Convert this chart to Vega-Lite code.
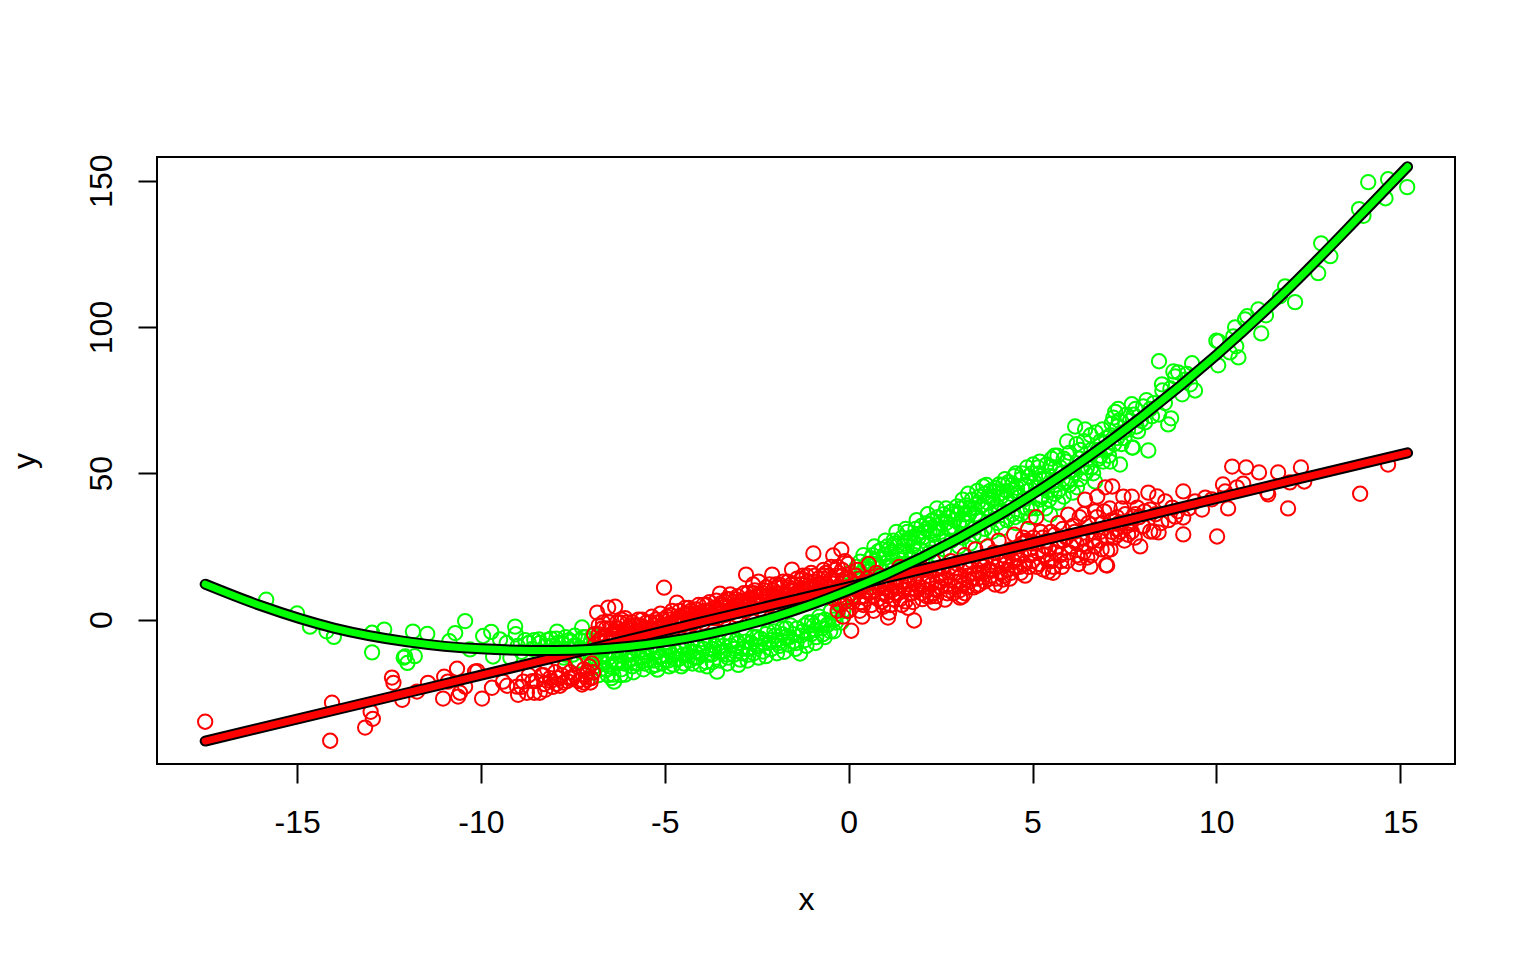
{"$schema":"https://vega.github.io/schema/vega-lite/v6.json","width":1298,"height":607,"autosize":"none","padding":{"left":157,"top":157,"right":81,"bottom":196},"background":"white","config":{"view":{"stroke":"black","strokeWidth":2},"axis":{"grid":false,"domain":false,"tickColor":"black","tickWidth":2,"tickSize":19,"labelColor":"black","titleColor":"black","labelFont":"Liberation Sans","titleFont":"Liberation Sans","labelFontSize":32,"titleFontSize":32,"titleFontWeight":"normal"}},"datasets":{"green":[{"x":-15.84,"y":6.8},{"x":-15,"y":2.1},{"x":-14.65,"y":-2.4},{"x":-14.2,"y":-4},{"x":-14,"y":-5.9},{"x":-12.96,"y":-4.5},{"x":-12.96,"y":-11.2},{"x":-12.63,"y":-3.4},{"x":-11.85,"y":-4.1},{"x":-11.46,"y":-4.9},{"x":-12.06,"y":-12.6},{"x":-12,"y":-14.8},{"x":-11.8,"y":-12.5},{"x":-12.1,"y":-13},{"x":-10.7,"y":-4.6},{"x":-10.43,"y":-0.5},{"x":-10.86,"y":-7.4},{"x":-10.3,"y":-10.2},{"x":-9.94,"y":-5.6},{"x":-9.72,"y":-4.2},{"x":-9.67,"y":-12.6},{"x":-9.48,"y":-6.8},{"x":-9.07,"y":-2.4},{"x":-9.05,"y":-5},{"x":-9.2,"y":-13},{"x":-8.42,"y":-6.8},{"x":-9.3,"y":-8},{"x":-9,"y":-9},{"x":-8.8,"y":-7},{"x":-8.6,"y":-10},{"x":-8.4,"y":-8},{"x":-8.3,"y":-11},{"x":-8.2,"y":-7},{"x":-8.15,"y":-12},{"x":-8.05,"y":-9},{"x":-7.95,"y":-6.5},{"x":-7.93,"y":-4.1},{"x":-7.85,"y":-11},{"x":-7.8,"y":-8},{"x":-7.75,"y":-13},{"x":-7.7,"y":-6},{"x":-7.62,"y":-10},{"x":-7.55,"y":-7.5},{"x":-7.5,"y":-12},{"x":-7.45,"y":-5.5},{"x":-7.4,"y":-9},{"x":-7.35,"y":-14},{"x":-7.3,"y":-7},{"x":-7.25,"y":-2.7},{"x":-7.2,"y":-11},{"x":-7.15,"y":-6},{"x":-7.1,"y":-13},{"x":-7.05,"y":-8.5},{"x":-7,"y":-15},{"x":-6.95,"y":-5.5},{"x":-6.9,"y":-16},{"x":-6.85,"y":-12},{"x":-6.8,"y":-19},{"x":-6.72,"y":-14},{"x":-6.65,"y":-10},{"x":-6.6,"y":-17},{"x":-6.52,"y":-13},{"x":-6.45,"y":-20},{"x":-6.38,"y":-21.2},{"x":-6.4,"y":-18.8},{"x":-6.3,"y":-15},{"x":-6.25,"y":-11},{"x":-6.18,"y":-17},{"x":-6.08,"y":-18.8},{"x":-6,"y":-14},{"x":-5.95,"y":-12},{"x":-5.88,"y":-16},{"x":-5.8,"y":-10},{"x":-5.72,"y":-15},{"x":-5.65,"y":-13},{"x":-5.58,"y":-17},{"x":-5.5,"y":-11},{"x":-5.42,"y":-14},{"x":-5.35,"y":-16},{"x":-5.3,"y":-9},{"x":-5.2,"y":-17.1},{"x":-5.15,"y":-13},{"x":-5.08,"y":-15},{"x":-5,"y":-10},{"x":-4.95,"y":-12.5},{"x":-4.88,"y":-16},{"x":-4.77,"y":-15.4},{"x":-4.7,"y":-11},{"x":-4.62,"y":-13.5},{"x":-4.55,"y":-9},{"x":-4.48,"y":-15},{"x":-4.4,"y":-12},{"x":-4.32,"y":-14},{"x":-4.25,"y":-8},{"x":-4.18,"y":-11},{"x":-4.1,"y":-13},{"x":-4.04,"y":-15.4},{"x":-3.95,"y":-10},{"x":-3.88,"y":-14.5},{"x":-3.8,"y":-7},{"x":-3.72,"y":-12},{"x":-3.65,"y":-9},{"x":-3.58,"y":-17.8},{"x":-3.5,"y":-14},{"x":-3.42,"y":-11},{"x":-3.35,"y":-6},{"x":-3.28,"y":-13},{"x":-3.2,"y":-9},{"x":-3.12,"y":-12},{"x":-3.05,"y":-7},{"x":-2.95,"y":-13.7},{"x":-2.88,"y":-10},{"x":-2.8,"y":-5},{"x":-2.72,"y":-12},{"x":-2.65,"y":-8},{"x":-2.58,"y":-11.5},{"x":-2.5,"y":-6},{"x":-2.42,"y":-9},{"x":-2.33,"y":-10.9},{"x":-2.25,"y":-5},{"x":-2.18,"y":-8},{"x":-2.1,"y":-10},{"x":-2.02,"y":-4},{"x":-1.95,"y":-7},{"x":-1.88,"y":-9},{"x":-1.8,"y":-3},{"x":-1.72,"y":-6},{"x":-1.65,"y":-8.5},{"x":-1.58,"y":-2},{"x":-1.5,"y":-5},{"x":-1.42,"y":-8},{"x":-1.32,"y":-11.6},{"x":-1.25,"y":-4},{"x":-1.18,"y":-7},{"x":-1.1,"y":-1},{"x":-1.02,"y":-5},{"x":-0.95,"y":-2},{"x":-0.88,"y":-6},{"x":-0.8,"y":1},{"x":-0.72,"y":-3},{"x":-0.65,"y":0},{"x":-0.55,"y":-1.5},{"x":-0.48,"y":3},{"x":-0.4,"y":0},{"x":-0.3,"y":2},{"x":-0.22,"y":5},{"x":-0.15,"y":3},{"x":-0.05,"y":7},{"x":0.05,"y":12},{"x":0.1,"y":8},{"x":0.18,"y":15},{"x":0.25,"y":11},{"x":0.31,"y":19.8},{"x":0.38,"y":14},{"x":0.45,"y":18},{"x":0.52,"y":12},{"x":0.6,"y":21},{"x":0.68,"y":16},{"x":0.75,"y":19},{"x":0.8,"y":23.3},{"x":0.88,"y":15},{"x":0.95,"y":22},{"x":1.02,"y":18},{"x":1.1,"y":24},{"x":1.18,"y":20},{"x":1.25,"y":26},{"x":1.32,"y":22},{"x":1.4,"y":19},{"x":1.48,"y":25},{"x":1.55,"y":23},{"x":1.62,"y":27},{"x":1.7,"y":21},{"x":1.78,"y":26},{"x":1.86,"y":29.1},{"x":1.95,"y":24},{"x":2.02,"y":28},{"x":2.1,"y":31},{"x":2.15,"y":26},{"x":2.22,"y":32.5},{"x":2.3,"y":29},{"x":2.38,"y":25},{"x":2.45,"y":31},{"x":2.52,"y":33},{"x":2.6,"y":28},{"x":2.71,"y":34.9},{"x":2.78,"y":31},{"x":2.85,"y":36},{"x":2.95,"y":38.7},{"x":3,"y":33},{"x":3.08,"y":29},{"x":3.15,"y":36},{"x":3.22,"y":33},{"x":3.3,"y":38},{"x":3.38,"y":31},{"x":3.45,"y":36},{"x":3.52,"y":40},{"x":3.58,"y":34},{"x":3.66,"y":45.5},{"x":3.72,"y":38},{"x":3.8,"y":42},{"x":3.88,"y":36},{"x":3.95,"y":44},{"x":4.02,"y":39},{"x":4.09,"y":46.2},{"x":4.15,"y":42},{"x":4.22,"y":37},{"x":4.3,"y":44},{"x":4.38,"y":40},{"x":4.45,"y":46},{"x":4.52,"y":35},{"x":4.6,"y":43},{"x":4.68,"y":48},{"x":4.75,"y":41},{"x":4.82,"y":46},{"x":4.9,"y":49},{"x":4.95,"y":38},{"x":5.02,"y":53},{"x":5.1,"y":45},{"x":5.18,"y":50},{"x":5.25,"y":42},{"x":5.32,"y":48},{"x":5.4,"y":44},{"x":5.48,"y":52.3},{"x":5.48,"y":35.9},{"x":5.55,"y":47},{"x":5.62,"y":52},{"x":5.7,"y":40},{"x":5.78,"y":50},{"x":5.85,"y":55},{"x":5.94,"y":60.9},{"x":6,"y":46},{"x":6.1,"y":43.4},{"x":6.16,"y":66},{"x":6.21,"y":45.2},{"x":6.3,"y":58},{"x":6.35,"y":52},{"x":6.43,"y":65},{"x":6.5,"y":55},{"x":6.58,"y":63},{"x":6.65,"y":50},{"x":6.7,"y":47.2},{"x":6.78,"y":58},{"x":6.85,"y":61},{"x":6.92,"y":54},{"x":7,"y":62},{"x":7.08,"y":56},{"x":7.11,"y":54},{"x":7.15,"y":67},{"x":7.2,"y":69},{"x":7.25,"y":71},{"x":7.3,"y":66},{"x":7.33,"y":72},{"x":7.38,"y":53},{"x":7.42,"y":60},{"x":7.5,"y":62},{"x":7.6,"y":65},{"x":7.71,"y":58.8},{"x":7.75,"y":70},{"x":7.83,"y":66},{"x":14.13,"y":149.5},{"x":14.67,"y":150.5},{"x":15.19,"y":147.8},{"x":14.6,"y":144},{"x":13.88,"y":140.3},{"x":14,"y":138},{"x":12.85,"y":128.6},{"x":13.1,"y":124.2},{"x":12.77,"y":118.4},{"x":11.87,"y":113.9},{"x":11.73,"y":110.5},{"x":12.14,"y":108.5},{"x":11.14,"y":106},{"x":10.84,"y":103.7},{"x":10.78,"y":102.6},{"x":11.35,"y":104},{"x":11.22,"y":97.8},{"x":10.51,"y":99.9},{"x":10.46,"y":96.8},{"x":10.06,"y":95.1},{"x":10,"y":95.3},{"x":10.54,"y":93.4},{"x":10.05,"y":86.9},{"x":10.6,"y":89.6},{"x":10.37,"y":91.3},{"x":8.44,"y":88.3},{"x":8.83,"y":84.8},{"x":8.96,"y":84.5},{"x":8.88,"y":83.1},{"x":9.34,"y":87.6},{"x":8.52,"y":80.4},{"x":8.53,"y":78.3},{"x":9.07,"y":77},{"x":9.42,"y":78.3},{"x":9.29,"y":80.4},{"x":8.01,"y":72.9},{"x":7.7,"y":73.6},{"x":7.73,"y":58.8},{"x":8.15,"y":57.8},{"x":8.69,"y":66.7},{"x":8.77,"y":68.8},{"x":8.44,"y":70.1},{"x":8.06,"y":67.4},{"x":7.87,"y":64.3},{"x":8.25,"y":69.5},{"x":-8.9,"y":-11},{"x":-8.7,"y":-8},{"x":-8.55,"y":-7},{"x":-8.45,"y":-11},{"x":-8.25,"y":-9},{"x":-8.1,"y":-6.5},{"x":-8,"y":-10},{"x":-7.9,"y":-8},{"x":-7.7,"y":-12},{"x":-7.6,"y":-7},{"x":-7.48,"y":-9},{"x":-7.3,"y":-11},{"x":-7.22,"y":-6},{"x":-7.05,"y":-11},{"x":-7,"y":-7},{"x":-6.9,"y":-13},{"x":-6.8,"y":-10},{"x":-6.7,"y":-15},{"x":-6.6,"y":-12},{"x":-6.5,"y":-16},{"x":-6.4,"y":-11},{"x":-6.3,"y":-14},{"x":-6.2,"y":-12},{"x":-6.1,"y":-15},{"x":-6,"y":-11},{"x":-5.9,"y":-13.5},{"x":-5.8,"y":-15},{"x":-5.7,"y":-11},{"x":-5.6,"y":-14},{"x":-5.5,"y":-12.5},{"x":-5.4,"y":-10},{"x":-5.3,"y":-14},{"x":-5.2,"y":-11},{"x":-5.1,"y":-12.5},{"x":-5,"y":-14},{"x":-4.9,"y":-9.5},{"x":-4.8,"y":-12},{"x":-4.7,"y":-13.5},{"x":-4.6,"y":-10},{"x":-4.5,"y":-12},{"x":-4.4,"y":-9},{"x":-4.3,"y":-11},{"x":-4.2,"y":-13},{"x":-4.1,"y":-9},{"x":-4,"y":-11.5},{"x":-3.9,"y":-8},{"x":-3.8,"y":-12},{"x":-3.7,"y":-10},{"x":-3.6,"y":-7},{"x":-3.5,"y":-11},{"x":-3.4,"y":-9},{"x":-3.3,"y":-12},{"x":-3.2,"y":-7},{"x":-3.1,"y":-10},{"x":-3,"y":-8},{"x":-2.9,"y":-11.5},{"x":-2.8,"y":-7.5},{"x":-2.7,"y":-10},{"x":-2.6,"y":-6},{"x":-2.5,"y":-9},{"x":-2.4,"y":-6.5},{"x":-2.3,"y":-8},{"x":-2.2,"y":-4},{"x":-2.1,"y":-7},{"x":-2,"y":-5.5},{"x":-1.9,"y":-8},{"x":-1.8,"y":-5},{"x":-1.7,"y":-3},{"x":-1.6,"y":-6},{"x":-1.5,"y":-7.5},{"x":-1.4,"y":-3},{"x":-1.3,"y":-5.5},{"x":-1.2,"y":-2},{"x":-1.1,"y":-4.5},{"x":-1,"y":-1},{"x":-0.9,"y":-3.5},{"x":-0.8,"y":-0.5},{"x":-0.7,"y":-5},{"x":-0.6,"y":-2},{"x":-0.5,"y":-4},{"x":-0.35,"y":-1},{"x":0.02,"y":16},{"x":0.15,"y":12},{"x":0.22,"y":18},{"x":0.35,"y":16},{"x":0.42,"y":13},{"x":0.5,"y":19},{"x":0.58,"y":17},{"x":0.65,"y":22},{"x":0.72,"y":20},{"x":0.82,"y":18},{"x":0.9,"y":24},{"x":0.98,"y":21},{"x":1.05,"y":25},{"x":1.15,"y":23},{"x":1.22,"y":27},{"x":1.3,"y":25},{"x":1.38,"y":23},{"x":1.45,"y":28},{"x":1.52,"y":26},{"x":1.6,"y":30},{"x":1.68,"y":28},{"x":1.75,"y":25},{"x":1.82,"y":31},{"x":1.9,"y":28},{"x":1.98,"y":32},{"x":2.05,"y":30},{"x":2.12,"y":33},{"x":2.2,"y":30},{"x":2.28,"y":34},{"x":2.35,"y":31},{"x":2.42,"y":35},{"x":2.5,"y":30},{"x":2.58,"y":36},{"x":2.65,"y":33},{"x":2.72,"y":31},{"x":2.8,"y":37},{"x":2.88,"y":34},{"x":2.98,"y":36},{"x":3.05,"y":38},{"x":3.12,"y":34},{"x":3.2,"y":39},{"x":3.28,"y":36},{"x":3.35,"y":41},{"x":3.42,"y":38},{"x":3.5,"y":35},{"x":3.55,"y":42},{"x":3.62,"y":39},{"x":3.7,"y":43},{"x":3.78,"y":40},{"x":3.85,"y":44},{"x":3.92,"y":41},{"x":4,"y":45},{"x":4,"y":37},{"x":4.12,"y":43},{"x":4.2,"y":46},{"x":4.28,"y":41},{"x":4.35,"y":47},{"x":4.42,"y":43},{"x":4.5,"y":49},{"x":4.58,"y":45},{"x":4.65,"y":42},{"x":4.72,"y":50},{"x":4.8,"y":46},{"x":4.88,"y":44},{"x":4.98,"y":50},{"x":5.05,"y":47},{"x":5.15,"y":52},{"x":5.22,"y":48},{"x":5.3,"y":45},{"x":5.38,"y":53},{"x":5.45,"y":49},{"x":5.52,"y":55},{"x":5.6,"y":46},{"x":5.68,"y":56},{"x":5.75,"y":52},{"x":5.82,"y":48},{"x":5.92,"y":54},{"x":6,"y":57},{"x":6.08,"y":51},{"x":6.2,"y":60},{"x":6.28,"y":55},{"x":6.4,"y":61},{"x":6.48,"y":52},{"x":6.6,"y":58},{"x":6.72,"y":64},{"x":6.8,"y":55},{"x":6.9,"y":65},{"x":7,"y":58},{"x":7.12,"y":63},{"x":7.22,"y":60},{"x":7.35,"y":68},{"x":7.45,"y":64},{"x":7.55,"y":70},{"x":7.65,"y":68},{"x":7.8,"y":72},{"x":7.95,"y":68},{"x":8.1,"y":75},{"x":8.2,"y":72},{"x":8.3,"y":74},{"x":8.6,"y":74},{"x":8.75,"y":79},{"x":9.15,"y":82},{"x":9.2,"y":84},{"x":1.2,"y":17},{"x":1.4,"y":18},{"x":1.6,"y":19},{"x":1.8,"y":22},{"x":2,"y":20},{"x":2.2,"y":23},{"x":2.4,"y":22},{"x":2.6,"y":24},{"x":2.8,"y":27},{"x":3,"y":25},{"x":3.1,"y":28},{"x":3.3,"y":26},{"x":3.4,"y":29},{"x":3.6,"y":29},{"x":3.7,"y":31},{"x":3.9,"y":30},{"x":4.05,"y":33},{"x":4.15,"y":31},{"x":4.3,"y":34},{"x":4.45,"y":36},{"x":4.55,"y":33},{"x":4.7,"y":36},{"x":4.85,"y":38},{"x":4.95,"y":35},{"x":5.1,"y":38},{"x":5.2,"y":41},{"x":5.35,"y":38},{"x":5.45,"y":41},{"x":5.6,"y":43},{"x":5.7,"y":44},{"x":5.85,"y":42},{"x":5.95,"y":47},{"x":6.05,"y":48},{"x":6.15,"y":50},{"x":6.3,"y":48},{"x":6.45,"y":50},{"x":6.6,"y":52},{"x":6.85,"y":56},{"x":7.05,"y":59},{"x":7.3,"y":62},{"x":0.4,"y":22},{"x":0.7,"y":25},{"x":1,"y":27},{"x":1.3,"y":30},{"x":1.55,"y":31},{"x":1.85,"y":34},{"x":2.15,"y":36},{"x":2.4,"y":38},{"x":2.65,"y":38},{"x":3.1,"y":41},{"x":3.25,"y":43},{"x":3.5,"y":44},{"x":3.75,"y":46},{"x":4.25,"y":48},{"x":4.55,"y":50},{"x":4.85,"y":52},{"x":5.2,"y":54},{"x":5.6,"y":56},{"x":-6.75,"y":-17},{"x":-6.55,"y":-19},{"x":-6.2,"y":-19},{"x":-5.85,"y":-18},{"x":-5.55,"y":-15},{"x":-5.25,"y":-15.5},{"x":-4.9,"y":-14},{"x":-4.55,"y":-16},{"x":-4.25,"y":-15},{"x":-3.85,"y":-16},{"x":-3.7,"y":-14.5},{"x":-3.3,"y":-15},{"x":-3,"y":-15.5},{"x":-2.75,"y":-14},{"x":-2.45,"y":-13},{"x":-2.25,"y":-12.5},{"x":-1.95,"y":-11.5},{"x":-1.75,"y":-11},{"x":-1.45,"y":-10},{"x":-1.15,"y":-9},{"x":-0.9,"y":-8},{"x":-0.65,"y":-6},{"x":-0.4,"y":-4},{"x":-0.2,"y":-1}],"red":[{"x":-17.5,"y":-34.9},{"x":-14.05,"y":-28.4},{"x":-14.1,"y":-41.4},{"x":-13.15,"y":-36.9},{"x":-12.94,"y":-33.9},{"x":-13,"y":-31.5},{"x":-12.42,"y":-19.8},{"x":-12.38,"y":-21.6},{"x":-12.14,"y":-27.4},{"x":-11.74,"y":-24.6},{"x":-11.44,"y":-21.6},{"x":-11.03,"y":-27},{"x":-11,"y":-19.5},{"x":-10.9,"y":-21.2},{"x":-10.65,"y":-16.8},{"x":-10.62,"y":-26.3},{"x":-10.57,"y":-25},{"x":-10.43,"y":-22.9},{"x":-10.16,"y":-17.8},{"x":-10.1,"y":-17.6},{"x":-9.97,"y":-27},{"x":-9.7,"y":-23.3},{"x":-9.4,"y":-21.2},{"x":-9.29,"y":-22.6},{"x":-8.99,"y":-25.7},{"x":-9.02,"y":-22.9},{"x":-8.55,"y":-25},{"x":-8.85,"y":-21.2},{"x":-8.7,"y":-19},{"x":-8.6,"y":-21},{"x":-8.4,"y":-25},{"x":-8.35,"y":-19},{"x":-8.28,"y":-22},{"x":-8.2,"y":-17},{"x":-8.12,"y":-20},{"x":-8.05,"y":-23},{"x":-7.98,"y":-18},{"x":-7.85,"y":-22.6},{"x":-7.8,"y":-19},{"x":-7.72,"y":-16},{"x":-7.65,"y":-21},{"x":-7.58,"y":-18},{"x":-7.5,"y":-20},{"x":-7.42,"y":-15},{"x":-7.35,"y":-21},{"x":-7.25,"y":-22.2},{"x":-7.2,"y":-17},{"x":-7.15,"y":-19},{"x":-7.1,"y":-20.5},{"x":-7.05,"y":-16},{"x":-7.02,"y":-21.5},{"x":-6.98,"y":-15},{"x":-6.84,"y":2.4},{"x":-6.8,"y":-5},{"x":-6.75,"y":-8},{"x":-6.7,"y":-3},{"x":-6.62,"y":-6},{"x":-6.54,"y":4.1},{"x":-6.5,"y":-1},{"x":-6.42,"y":-7},{"x":-6.35,"y":4.4},{"x":-6.3,"y":-4},{"x":-6.22,"y":-1},{"x":-6.15,"y":-6},{"x":-6.08,"y":0.5},{"x":-6,"y":-3},{"x":-5.95,"y":-5},{"x":-5.88,"y":-1},{"x":-5.8,"y":-4},{"x":-5.72,"y":0},{"x":-5.65,"y":-2.5},{"x":-5.58,"y":-5},{"x":-5.5,"y":-1},{"x":-5.42,"y":-3},{"x":-5.35,"y":1},{"x":-5.28,"y":-4},{"x":-5.2,"y":-1},{"x":-5.12,"y":2},{"x":-5.05,"y":-2},{"x":-5.02,"y":10.9},{"x":-4.95,"y":-3.5},{"x":-4.88,"y":0},{"x":-4.8,"y":3},{"x":-4.72,"y":-1},{"x":-4.67,"y":5.8},{"x":-4.6,"y":1},{"x":-4.52,"y":-2},{"x":-4.45,"y":4},{"x":-4.38,"y":0},{"x":-4.3,"y":3},{"x":-4.22,"y":-1},{"x":-4.15,"y":2},{"x":-4.08,"y":5},{"x":-4,"y":0},{"x":-3.92,"y":3},{"x":-3.85,"y":1},{"x":-3.78,"y":6},{"x":-3.7,"y":2},{"x":-3.62,"y":4},{"x":-3.55,"y":0.5},{"x":-3.5,"y":8.9},{"x":-3.42,"y":3},{"x":-3.35,"y":6},{"x":-3.28,"y":2},{"x":-3.22,"y":8.6},{"x":-3.15,"y":4},{"x":-3.08,"y":7},{"x":-3,"y":3},{"x":-2.92,"y":5},{"x":-2.85,"y":9},{"x":-2.79,"y":15.4},{"x":-2.72,"y":6},{"x":-2.65,"y":4},{"x":-2.6,"y":12},{"x":-2.52,"y":8},{"x":-2.45,"y":13},{"x":-2.38,"y":5},{"x":-2.3,"y":10},{"x":-2.22,"y":7},{"x":-2.15,"y":12},{"x":-2.08,"y":15.4},{"x":-2,"y":8},{"x":-1.92,"y":11},{"x":-1.85,"y":6},{"x":-1.78,"y":13},{"x":-1.7,"y":9},{"x":-1.62,"y":11},{"x":-1.54,"y":17.1},{"x":-1.48,"y":8},{"x":-1.4,"y":14},{"x":-1.32,"y":10},{"x":-1.25,"y":15},{"x":-1.18,"y":12},{"x":-1.1,"y":8},{"x":-1.02,"y":16},{"x":-0.96,"y":22.6},{"x":-0.9,"y":11},{"x":-0.82,"y":14},{"x":-0.75,"y":9},{"x":-0.68,"y":17},{"x":-0.6,"y":12},{"x":-0.52,"y":15},{"x":-0.42,"y":21.9},{"x":-0.38,"y":10},{"x":-0.3,"y":18},{"x":-0.25,"y":5},{"x":-0.2,"y":23.9},{"x":-0.15,"y":13},{"x":-0.1,"y":20},{"x":-0.05,"y":3},{"x":0.07,"y":-3.8},{"x":0.12,"y":6},{"x":0.18,"y":12},{"x":0.25,"y":17},{"x":0.3,"y":3},{"x":0.37,"y":1},{"x":0.42,"y":8},{"x":0.5,"y":14},{"x":0.55,"y":19},{"x":0.62,"y":5},{"x":0.7,"y":10},{"x":0.75,"y":16},{"x":0.8,"y":7},{"x":0.88,"y":12},{"x":0.94,"y":4.4},{"x":1,"y":9},{"x":1.07,"y":0.7},{"x":1.1,"y":2.4},{"x":1.15,"y":15},{"x":1.22,"y":7},{"x":1.3,"y":11},{"x":1.38,"y":18},{"x":1.45,"y":5},{"x":1.54,"y":6.2},{"x":1.6,"y":13},{"x":1.68,"y":9},{"x":1.78,"y":-0.3},{"x":1.85,"y":15},{"x":1.92,"y":11},{"x":2,"y":7},{"x":2.08,"y":17},{"x":2.15,"y":13},{"x":2.22,"y":7.9},{"x":2.3,"y":20},{"x":2.33,"y":5.8},{"x":2.4,"y":10},{"x":2.48,"y":15},{"x":2.55,"y":18},{"x":2.62,"y":6.8},{"x":2.7,"y":12},{"x":2.78,"y":20},{"x":2.85,"y":9},{"x":2.92,"y":16},{"x":3,"y":13},{"x":3.03,"y":7.5},{"x":3.09,"y":7.9},{"x":3.15,"y":22},{"x":3.22,"y":11},{"x":3.3,"y":18},{"x":3.38,"y":14},{"x":3.45,"y":24},{"x":3.49,"y":11.6},{"x":3.55,"y":16},{"x":3.62,"y":20},{"x":3.7,"y":13},{"x":3.78,"y":25},{"x":3.85,"y":17},{"x":3.92,"y":21},{"x":4,"y":14},{"x":4.08,"y":27},{"x":4.15,"y":11.6},{"x":4.2,"y":13.7},{"x":4.28,"y":19},{"x":4.35,"y":23},{"x":4.42,"y":16},{"x":4.5,"y":29},{"x":4.58,"y":21},{"x":4.65,"y":18},{"x":4.72,"y":26},{"x":4.8,"y":15},{"x":4.88,"y":31},{"x":4.95,"y":22},{"x":5.02,"y":28},{"x":5.1,"y":35},{"x":5.18,"y":19},{"x":5.29,"y":17.1},{"x":5.35,"y":25},{"x":5.43,"y":16.4},{"x":5.5,"y":30},{"x":5.56,"y":16},{"x":5.62,"y":23},{"x":5.7,"y":33},{"x":5.78,"y":20},{"x":5.85,"y":27},{"x":5.97,"y":35.9},{"x":6.05,"y":25},{"x":6.15,"y":30},{"x":6.22,"y":22},{"x":6.3,"y":21.2},{"x":6.38,"y":36},{"x":6.43,"y":41},{"x":6.49,"y":21.2},{"x":6.57,"y":18.1},{"x":6.62,"y":30},{"x":6.7,"y":37},{"x":6.76,"y":42},{"x":6.82,"y":27},{"x":6.9,"y":33},{"x":6.98,"y":45.2},{"x":7,"y":18.6},{"x":7.03,"y":18.5},{"x":7.03,"y":23.6},{"x":7.1,"y":38},{"x":7.17,"y":45.5},{"x":7.22,"y":28},{"x":7.3,"y":35},{"x":7.38,"y":30},{"x":7.47,"y":42},{"x":7.52,"y":36},{"x":7.6,"y":29},{"x":7.68,"y":33},{"x":7.93,"y":25},{"x":7.8,"y":36},{"x":14.67,"y":53},{"x":13.91,"y":43},{"x":12.3,"y":52},{"x":12.39,"y":47.2},{"x":12,"y":46.9},{"x":11.95,"y":38},{"x":11.68,"y":50.3},{"x":11.41,"y":42.8},{"x":11.38,"y":43.5},{"x":11.16,"y":50.3},{"x":10.81,"y":52},{"x":10.43,"y":52.3},{"x":10.18,"y":46.2},{"x":10.73,"y":46.5},{"x":10.56,"y":45.2},{"x":10.24,"y":43.8},{"x":10.32,"y":38},{"x":10.02,"y":28.4},{"x":9.1,"y":43.8},{"x":9.1,"y":29.1},{"x":8.15,"y":43.4},{"x":8.39,"y":42.1},{"x":8.61,"y":40.4},{"x":9.61,"y":37.6},{"x":9.42,"y":40.4},{"x":9.7,"y":41.7},{"x":9.88,"y":41.1},{"x":9.1,"y":34.9},{"x":8.88,"y":35.2},{"x":8.8,"y":38.3},{"x":8.29,"y":30.1},{"x":8.43,"y":29.8},{"x":8.2,"y":30.1},{"x":7.85,"y":38.3},{"x":8.2,"y":37.6},{"x":8.01,"y":31.8},{"x":7.74,"y":35.2},{"x":7.7,"y":42},{"x":-8.9,"y":-23},{"x":-8.75,"y":-25},{"x":-8.5,"y":-21},{"x":-8.3,"y":-19},{"x":-8.25,"y":-24},{"x":-8.1,"y":-21},{"x":-7.95,"y":-22},{"x":-7.9,"y":-20},{"x":-7.75,"y":-21.5},{"x":-7.6,"y":-20},{"x":-7.45,"y":-19},{"x":-7.3,"y":-20.5},{"x":-7.2,"y":-21.5},{"x":-7.1,"y":-18},{"x":-7,"y":-20},{"x":-6.95,"y":-18},{"x":-6.9,"y":-8.5},{"x":-6.8,"y":-2},{"x":-6.7,"y":-6},{"x":-6.6,"y":-3},{"x":-6.5,"y":-8},{"x":-6.4,"y":-5},{"x":-6.3,"y":-1},{"x":-6.2,"y":-6},{"x":-6.1,"y":-3.5},{"x":-6.05,"y":-7},{"x":-5.95,"y":-2},{"x":-5.85,"y":-4.5},{"x":-5.75,"y":-6},{"x":-5.7,"y":-2},{"x":-5.6,"y":-3},{"x":-5.5,"y":-5},{"x":-5.4,"y":-1},{"x":-5.3,"y":-2},{"x":-5.25,"y":-5},{"x":-5.15,"y":-3},{"x":-5.05,"y":0},{"x":-5,"y":-4},{"x":-4.9,"y":-1.5},{"x":-4.85,"y":1.5},{"x":-4.75,"y":-3},{"x":-4.65,"y":0},{"x":-4.6,"y":3},{"x":-4.5,"y":-1},{"x":-4.42,"y":1.5},{"x":-4.35,"y":4},{"x":-4.25,"y":0},{"x":-4.18,"y":2},{"x":-4.1,"y":-0.5},{"x":-4.02,"y":2.5},{"x":-3.95,"y":5},{"x":-3.85,"y":3},{"x":-3.75,"y":1},{"x":-3.68,"y":4},{"x":-3.6,"y":6.5},{"x":-3.52,"y":2},{"x":-3.45,"y":5},{"x":-3.38,"y":1.5},{"x":-3.3,"y":4},{"x":-3.25,"y":7},{"x":-3.18,"y":2.5},{"x":-3.1,"y":5},{"x":-3.02,"y":8},{"x":-2.95,"y":4},{"x":-2.88,"y":6.5},{"x":-2.8,"y":3},{"x":-2.75,"y":9},{"x":-2.68,"y":5},{"x":-2.6,"y":7},{"x":-2.55,"y":10},{"x":-2.48,"y":5},{"x":-2.4,"y":8},{"x":-2.32,"y":6},{"x":-2.25,"y":11},{"x":-2.18,"y":8},{"x":-2.1,"y":6},{"x":-2.05,"y":10},{"x":-1.95,"y":7},{"x":-1.88,"y":12},{"x":-1.8,"y":9},{"x":-1.72,"y":7},{"x":-1.65,"y":13},{"x":-1.58,"y":10},{"x":-1.5,"y":8},{"x":-1.45,"y":12},{"x":-1.35,"y":9},{"x":-1.28,"y":14},{"x":-1.2,"y":10},{"x":-1.12,"y":13},{"x":-1.05,"y":11},{"x":-0.98,"y":9},{"x":-0.92,"y":15},{"x":-0.85,"y":12},{"x":-0.78,"y":10},{"x":-0.7,"y":14},{"x":-0.62,"y":16},{"x":-0.55,"y":11},{"x":-0.48,"y":18},{"x":-0.4,"y":13},{"x":-0.32,"y":15},{"x":-0.28,"y":11},{"x":-0.18,"y":17},{"x":-0.12,"y":10},{"x":-0.08,"y":14},{"x":-0.02,"y":19},{"x":-0.4,"y":7},{"x":-0.3,"y":3},{"x":-0.15,"y":1},{"x":-0.1,"y":6},{"x":0,"y":3},{"x":0.03,"y":14},{"x":0.08,"y":9},{"x":0.15,"y":8},{"x":0.22,"y":10},{"x":0.28,"y":14},{"x":0.35,"y":11},{"x":0.45,"y":12},{"x":0.55,"y":9},{"x":0.58,"y":13},{"x":0.65,"y":8},{"x":0.72,"y":13},{"x":0.82,"y":11},{"x":0.85,"y":15},{"x":0.92,"y":9},{"x":0.98,"y":13},{"x":1.05,"y":8},{"x":1.12,"y":12},{"x":1.18,"y":10},{"x":1.25,"y":14},{"x":1.35,"y":9},{"x":1.42,"y":13},{"x":1.5,"y":10},{"x":1.58,"y":15},{"x":1.65,"y":12},{"x":1.72,"y":9},{"x":1.8,"y":14},{"x":1.88,"y":12},{"x":1.95,"y":17},{"x":2.02,"y":13},{"x":2.1,"y":10},{"x":2.18,"y":15},{"x":2.25,"y":12},{"x":2.35,"y":17},{"x":2.42,"y":13},{"x":2.5,"y":11},{"x":2.58,"y":16},{"x":2.65,"y":14},{"x":2.72,"y":10},{"x":2.8,"y":16},{"x":2.88,"y":13},{"x":2.95,"y":19},{"x":3.05,"y":15},{"x":3.12,"y":12},{"x":3.18,"y":18},{"x":3.25,"y":15},{"x":3.35,"y":20},{"x":3.42,"y":16},{"x":3.5,"y":14},{"x":3.58,"y":19},{"x":3.65,"y":16},{"x":3.72,"y":21},{"x":3.8,"y":17},{"x":3.88,"y":15},{"x":3.95,"y":23},{"x":4.02,"y":18},{"x":4.12,"y":16},{"x":4.18,"y":22},{"x":4.25,"y":20},{"x":4.32,"y":17},{"x":4.4,"y":24},{"x":4.48,"y":20},{"x":4.55,"y":18},{"x":4.62,"y":25},{"x":4.7,"y":22},{"x":4.78,"y":19},{"x":4.85,"y":27},{"x":4.92,"y":24},{"x":5,"y":20},{"x":5.08,"y":26},{"x":5.15,"y":23},{"x":5.22,"y":30},{"x":5.3,"y":22},{"x":5.38,"y":27},{"x":5.45,"y":24},{"x":5.52,"y":20},{"x":5.6,"y":29},{"x":5.68,"y":25},{"x":5.75,"y":22},{"x":5.82,"y":31},{"x":5.92,"y":28},{"x":6,"y":23},{"x":6.1,"y":32},{"x":6.2,"y":26},{"x":6.28,"y":35},{"x":6.35,"y":28},{"x":6.45,"y":25},{"x":6.52,"y":33},{"x":6.65,"y":27},{"x":6.75,"y":35},{"x":6.85,"y":30},{"x":6.95,"y":37},{"x":7.05,"y":28},{"x":7.15,"y":34},{"x":7.28,"y":31},{"x":7.42,"y":38},{"x":7.55,"y":32},{"x":7.7,"y":30},{"x":7.78,"y":28},{"x":7.9,"y":35},{"x":8,"y":32},{"x":8.05,"y":37},{"x":8.35,"y":36},{"x":8.5,"y":33},{"x":8.7,"y":34},{"x":8.95,"y":37},{"x":9.25,"y":38},{"x":-6.92,"y":-5},{"x":-6.78,"y":-7},{"x":-6.68,"y":-1},{"x":-6.58,"y":-7},{"x":-6.48,"y":-3},{"x":-6.38,"y":-6.5},{"x":-6.28,"y":-3},{"x":-6.18,"y":0},{"x":-6.12,"y":-4.5},{"x":-6.02,"y":-1},{"x":-5.92,"y":-6},{"x":-5.82,"y":-2},{"x":-5.72,"y":-5},{"x":-5.62,"y":0},{"x":-5.52,"y":-3},{"x":-5.44,"y":-6},{"x":-5.34,"y":-3},{"x":-5.24,"y":0},{"x":-5.14,"y":-4.5},{"x":-5.04,"y":-3},{"x":-4.94,"y":1},{"x":-4.84,"y":-2.5},{"x":-4.74,"y":-0.5},{"x":-4.64,"y":-2},{"x":-4.54,"y":1},{"x":-4.46,"y":-1},{"x":-4.36,"y":2},{"x":-4.26,"y":-1.5},{"x":-4.16,"y":3.5},{"x":-4.06,"y":1},{"x":-3.96,"y":-1},{"x":-3.86,"y":5},{"x":-3.76,"y":3},{"x":-3.66,"y":0.5},{"x":-3.58,"y":3},{"x":-3.48,"y":5.5},{"x":-3.4,"y":0},{"x":-3.32,"y":7},{"x":-3.22,"y":3.5},{"x":-3.12,"y":6},{"x":-3.04,"y":1.5},{"x":-2.94,"y":6},{"x":-2.84,"y":5},{"x":-2.74,"y":7},{"x":-2.66,"y":2},{"x":-2.58,"y":9},{"x":-2.5,"y":6},{"x":-2.42,"y":3.5},{"x":-2.34,"y":9},{"x":-2.26,"y":8},{"x":-2.16,"y":5},{"x":-2.06,"y":8},{"x":-1.98,"y":12},{"x":-1.9,"y":6},{"x":-1.82,"y":11},{"x":-1.74,"y":8},{"x":-1.66,"y":5.5},{"x":-1.56,"y":12},{"x":-1.46,"y":10},{"x":-1.38,"y":7},{"x":-1.3,"y":12},{"x":-1.22,"y":9},{"x":-1.14,"y":15},{"x":-1.06,"y":6},{"x":-0.94,"y":13},{"x":-0.86,"y":8},{"x":-0.76,"y":12},{"x":-0.66,"y":15},{"x":-0.58,"y":9},{"x":-0.46,"y":14},{"x":-0.36,"y":17},{"x":-0.26,"y":8},{"x":-0.16,"y":15},{"x":-0.06,"y":11},{"x":0.1,"y":11},{"x":0.2,"y":15},{"x":0.33,"y":6},{"x":0.4,"y":5},{"x":0.47,"y":10},{"x":0.6,"y":11},{"x":0.68,"y":3},{"x":0.78,"y":13},{"x":0.9,"y":6},{"x":1.02,"y":11},{"x":1.14,"y":5},{"x":1.27,"y":9},{"x":1.4,"y":7},{"x":1.52,"y":11},{"x":1.62,"y":4},{"x":1.75,"y":6},{"x":1.85,"y":10},{"x":1.98,"y":9},{"x":2.12,"y":8},{"x":2.28,"y":9},{"x":2.38,"y":8},{"x":2.52,"y":13},{"x":2.68,"y":9},{"x":2.76,"y":18},{"x":2.9,"y":11},{"x":3.02,"y":10},{"x":3.16,"y":9},{"x":3.28,"y":13},{"x":3.4,"y":11},{"x":3.55,"y":12},{"x":3.68,"y":18},{"x":3.82,"y":14},{"x":3.98,"y":12},{"x":4.1,"y":20},{"x":4.22,"y":15},{"x":4.38,"y":14},{"x":4.52,"y":23},{"x":4.68,"y":16},{"x":4.75,"y":28},{"x":4.9,"y":18},{"x":4.98,"y":26},{"x":5.12,"y":18},{"x":5.28,"y":28},{"x":5.42,"y":20},{"x":5.58,"y":18},{"x":5.72,"y":27},{"x":5.8,"y":18},{"x":5.95,"y":20},{"x":6.12,"y":27},{"x":6.25,"y":19},{"x":6.4,"y":23},{"x":6.6,"y":22},{"x":6.7,"y":25},{"x":6.88,"y":24},{"x":7.12,"y":24},{"x":7.32,"y":29},{"x":7.5,"y":27},{"x":7.62,"y":33},{"x":7.35,"y":33},{"x":7.15,"y":30}],"lineG":[{"x":-17.5,"y":12.1},{"x":-16,"y":4.8},{"x":-14,"y":-2.9},{"x":-12,"y":-7.6},{"x":-10,"y":-10},{"x":-8,"y":-10.6},{"x":-6,"y":-9.2},{"x":-4,"y":-5.4},{"x":-2,"y":1},{"x":0,"y":10},{"x":2,"y":21.3},{"x":4,"y":35},{"x":6,"y":51.1},{"x":8,"y":69.6},{"x":10,"y":90.4},{"x":12,"y":113.6},{"x":14,"y":139.2},{"x":15.2,"y":154.8}],"lineR":[{"x":-17.5,"y":-41.5},{"x":-12,"y":-25},{"x":-8,"y":-13},{"x":-4,"y":-0.8},{"x":0,"y":11.2},{"x":4,"y":23.2},{"x":8,"y":35.3},{"x":12,"y":47.4},{"x":15.2,"y":57}]},"encoding":{"x":{"field":"x","type":"quantitative","scale":{"domain":[-18.81,16.49],"nice":false,"zero":false},"axis":{"values":[-15,-10,-5,0,5,10,15],"labelExpr":"datum.value + ''","title":"x","labelPadding":24,"titlePadding":46}},"y":{"field":"y","type":"quantitative","scale":{"domain":[-49.35,158.1],"nice":false,"zero":false},"axis":{"values":[0,50,100,150],"title":"y","labelAngle":270,"labelAlign":"center","labelBaseline":"bottom","labelPadding":20,"titlePadding":44}}},"layer":[{"data":{"name":"green"},"mark":{"type":"point","shape":"circle","filled":false,"size":205,"stroke":"#00ff00","strokeWidth":2,"opacity":1}},{"data":{"name":"red"},"mark":{"type":"point","shape":"circle","filled":false,"size":205,"stroke":"#ff0000","strokeWidth":2,"opacity":1}},{"data":{"name":"lineR"},"mark":{"type":"line","color":"black","strokeWidth":11,"strokeCap":"round","strokeJoin":"round"}},{"data":{"name":"lineR"},"mark":{"type":"line","color":"#ff0000","strokeWidth":7,"strokeCap":"round","strokeJoin":"round"}},{"data":{"name":"lineG"},"mark":{"type":"line","color":"black","strokeWidth":11,"strokeCap":"round","strokeJoin":"round","interpolate":"monotone"}},{"data":{"name":"lineG"},"mark":{"type":"line","color":"#00ff00","strokeWidth":7,"strokeCap":"round","strokeJoin":"round","interpolate":"monotone"}}]}
